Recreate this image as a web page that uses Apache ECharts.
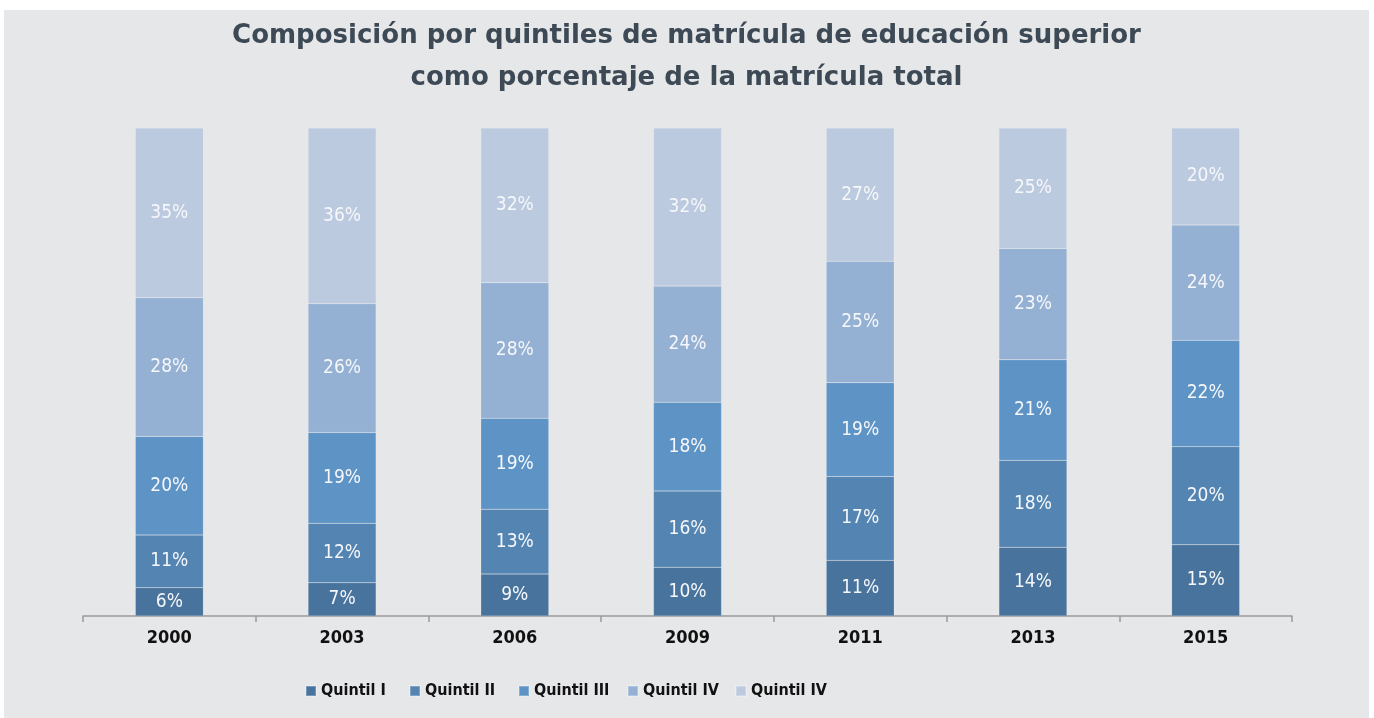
<!DOCTYPE html>
<html>
<head>
<meta charset="utf-8">
<script src="https://cdn.jsdelivr.net/npm/echarts@6/dist/echarts.min.js"></script>
<style>
  html, body { margin: 0; padding: 0; background: #ffffff; }
  #echarts { position: absolute; left: 4px; top: 10px; width: 1365px; height: 708px; background: #e6e7e9; }
</style>
</head>
<body>
<div id="echarts"></div>
<script>
/** 数据 */
var years = ['2000', '2003', '2006', '2009', '2011', '2013', '2015']
var seriesNames = ['Quintil I', 'Quintil II', 'Quintil III', 'Quintil IV', 'Quintil V']
// 图例文字（原图最后一项也写作 "Quintil IV"）
var legendLabels = ['Quintil I', 'Quintil II', 'Quintil III', 'Quintil IV', 'Quintil IV']
// 各五分位占比（%），按图中高度估计
var quintil1 = [5.8, 6.8, 8.6, 10.0, 11.4, 14.1, 14.6]
var quintil2 = [10.8, 12.2, 13.3, 15.6, 17.2, 17.8, 20.1]
var quintil3 = [20.2, 18.6, 18.6, 18.2, 19.2, 20.6, 21.8]
var quintil4 = [28.4, 26.4, 27.8, 23.8, 24.9, 22.8, 23.6]
var quintil5 = [34.8, 36.0, 31.7, 32.4, 27.3, 24.7, 19.9]
var colors = ['#48739c', '#5384b2', '#5d93c5', '#94b1d3', '#bccadf']

var narrowFont = "'DejaVu Sans Condensed', 'DejaVu Sans', sans-serif"
// 图例各项的左边位置
var legendLeft = [301, 405, 514, 623, 731]

/** 初始化 */
var myChart = echarts.init(document.getElementById('echarts'))

var values = [quintil1, quintil2, quintil3, quintil4, quintil5]
var series = []
var legends = []
for (var i = 0; i < values.length; i++) {
	series.push({
		name: seriesNames[i],
		type: 'bar',
		stack: 'total',
		barWidth: 68,
		data: values[i],
		itemStyle: {
			color: colors[i],
			borderColor: 'rgba(255,255,255,0.25)',
			borderWidth: 0.5
		},
		label: {
			show: true,
			position: 'inside',
			color: '#f5f7fa',
			fontFamily: narrowFont,
			fontSize: 19,
			formatter: function(p) {
				return Math.round(p.value) + '%'
			}
		}
	})
	legends.push({
		left: legendLeft[i],
		top: 673,
		itemWidth: 10,
		itemHeight: 10,
		icon: 'rect',
		padding: 0,
		data: [seriesNames[i]],
		formatter: function(name) {
			return legendLabels[seriesNames.indexOf(name)]
		},
		textStyle: {
			fontFamily: narrowFont,
			fontWeight: 'bold',
			fontSize: 16,
			color: '#111111'
		}
	})
}

var option = {
	animation: false,
	color: colors,
	title: {
		text: 'Composición por quintiles de matrícula de educación superior\ncomo porcentaje de la matrícula total',
		left: 'center',
		top: 0,
		textStyle: {
			fontFamily: "'DejaVu Sans', sans-serif",
			fontWeight: 'bold',
			fontSize: 26,
			lineHeight: 42,
			color: '#3d4a55',
			align: 'center'
		}
	},
	legend: legends,
	grid: {
		left: 79,
		right: 77,
		top: 118,
		bottom: 102
	},
	xAxis: {
		type: 'category',
		data: years,
		axisLine: { lineStyle: { color: '#9a9a9a', width: 1.5 } },
		axisTick: { show: true, length: 6, lineStyle: { color: '#9a9a9a', width: 1.5 } },
		axisLabel: {
			margin: 13,
			fontFamily: narrowFont,
			fontWeight: 'bold',
			fontSize: 18,
			color: '#111111'
		}
	},
	yAxis: {
		type: 'value',
		min: 0,
		max: 100,
		show: false,
		splitLine: { show: false }
	},
	series: series
}

myChart.setOption(option)
</script>
</body>
</html>
